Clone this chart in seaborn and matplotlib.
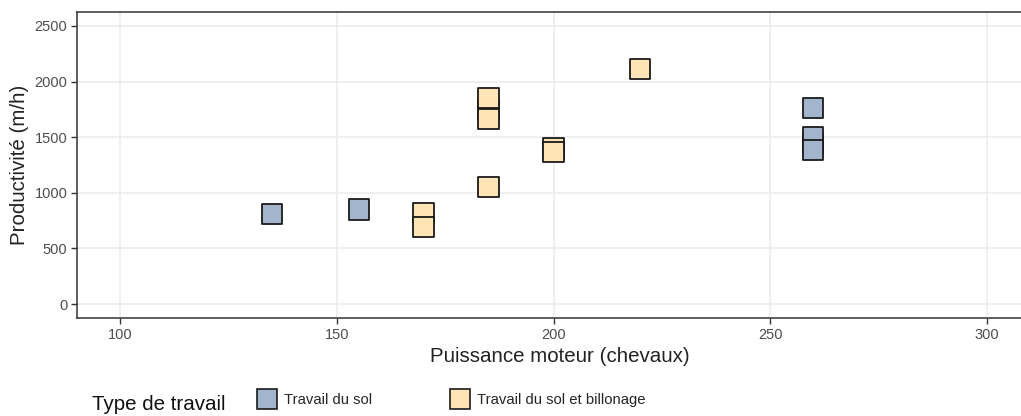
import matplotlib
matplotlib.use("Agg")
import matplotlib.pyplot as plt
import numpy as np
import pandas as pd
import seaborn as sns

# Data
puissance = [185, 260, 200, 135, 155, 260, 260, 260, 170, 170, 185, 185, 185, 200, 220]
productivite = [1750, 1440, 1400, 810, 850, 1760, 1500, 1385, 815, 690, 1850, 1665, 1050, 1370, 2110]
travail = ["Travail du sol et billonage", "Travail du sol", "Travail du sol et billonage",
           "Travail du sol", "Travail du sol", "Travail du sol", "Travail du sol", "Travail du sol",
           "Travail du sol et billonage", "Travail du sol et billonage", "Travail du sol et billonage",
           "Travail du sol et billonage", "Travail du sol et billonage", "Travail du sol et billonage",
           "Travail du sol et billonage"]
categories = ["Travail du sol", "Travail du sol et billonage"]
couleurs = ["#A2B5CD", "#FFE4B5"]

x_ticks = [100, 150, 200, 250, 300]
y_ticks = [0, 500, 1000, 1500, 2000, 2500]

df = pd.DataFrame({"Puissance": puissance, "Productivite": productivite, "Type": travail})

sns.set_theme(style="white")
plt.rcParams["font.family"] = ["Liberation Sans", "DejaVu Sans"]

fig = plt.figure(figsize=(10.21, 4.16), dpi=100)
ax = fig.add_axes([77 / 1021, 1 - 318 / 416, 953 / 1021, 306 / 416])

sns.scatterplot(data=df, x="Puissance", y="Productivite", hue="Type",
                hue_order=categories, palette=dict(zip(categories, couleurs)),
                marker="s", s=210, edgecolor="#1a1a1a", linewidth=1.3, ax=ax, zorder=3)

ax.set_xlim(90, 310)
ax.set_ylim(-125, 2625)
ax.set_xticks(x_ticks)
ax.set_yticks(y_ticks)
ax.grid(True, color="#EBEBEB", linewidth=1.1)
ax.set_axisbelow(True)
for sp in ax.spines.values():
    sp.set_color("#333333")
    sp.set_linewidth(1.1)
ax.tick_params(axis="both", which="major", length=4, width=1, color="#333333",
               labelcolor="#4D4D4D", labelsize=10.5, direction="out", pad=3,
               bottom=True, left=True)
ax.set_xlabel("Puissance moteur (chevaux)", fontsize=14.8, color="#222222", labelpad=3)
ax.set_ylabel("Productivité (m/h)", fontsize=14.8, color="#222222", labelpad=4)
ax.xaxis.set_label_coords(0.507, -0.095)

handles, labels = ax.get_legend_handles_labels()
ax.get_legend().remove()
for h in handles:
    h.set_markersize(14)
    h.set_markeredgewidth(1.2)
fig.legend(handles, labels, loc="center left", bbox_to_anchor=(245 / 1021, 1 - 400 / 416),
           ncol=2, frameon=False, fontsize=10.7, handletextpad=0.55, columnspacing=5.3,
           handlelength=1.2)
fig.text(92 / 1021, 1 - 404 / 416, "Type de travail", fontsize=14.8, color="#111111",
         va="center", ha="left")

fig.savefig("out.png", dpi=100)
